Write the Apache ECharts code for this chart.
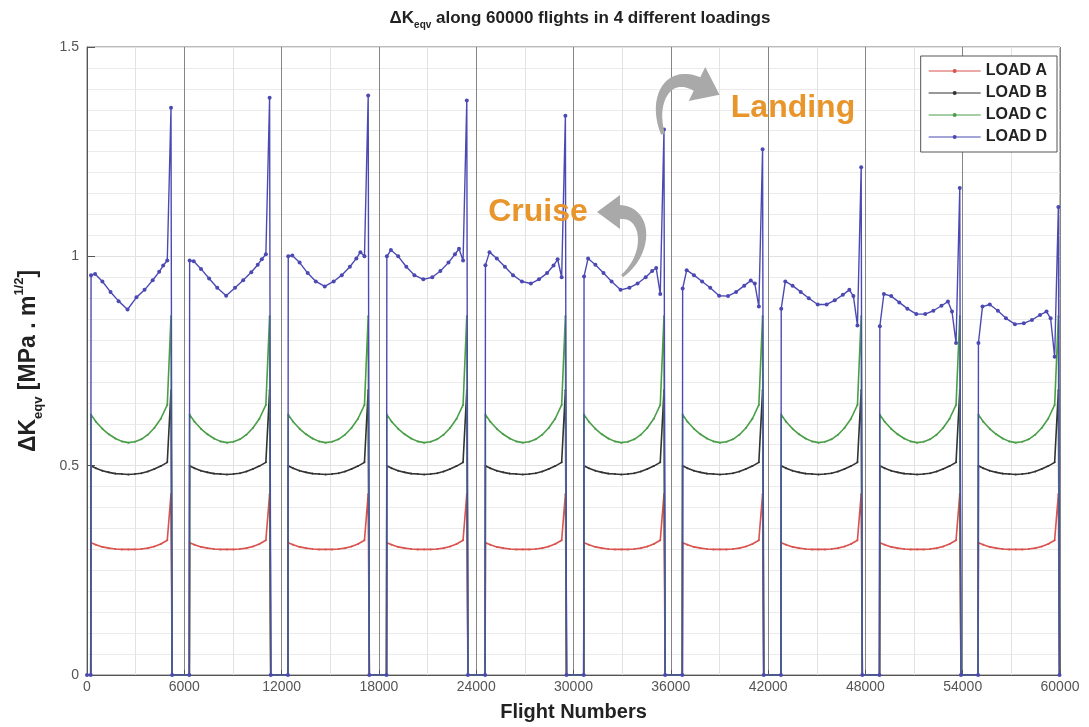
<!DOCTYPE html>
<html><head><meta charset="utf-8">
<script src="https://cdn.jsdelivr.net/npm/echarts@6/dist/echarts.min.js"></script>
<style>html,body{margin:0;padding:0;background:#fff}#c{width:1089px;height:727px}</style>
</head><body><div id="c"></div>
<script>
// ---- data ----
const xTickLabels = ['0','6000','12000','18000','24000','30000','36000','42000','48000','54000','60000'];
const yTickLabels = ['0','0.5','1','1.5'];
const seriesNames = ['LOAD A','LOAD B','LOAD C','LOAD D'];
// flight number where each loading block starts (rise from ground)
const blockStarts = [250, 6330, 12410, 18490, 24570, 30650, 36730, 42810, 48890, 54970];
const spikeOffset = 4930;   // landing peak, flights after block start
const groundOffset = 5000;  // back to zero
// cruise samples for loads A, B, C (same in every block)
const cruiseOffsets = [0, 300, 700, 1100, 1500, 1900, 2300, 2700, 3100, 3500, 3900, 4300, 4700];
const loadA = [0.316,0.311,0.306,0.303,0.301,0.300,0.300,0.300,0.301,0.303,0.307,0.313,0.322];
const loadAPeak = 0.432;
const loadB = [0.500,0.494,0.488,0.484,0.481,0.480,0.479,0.480,0.482,0.486,0.492,0.499,0.508];
const loadBPeak = 0.68;
const loadC = [0.622,0.605,0.588,0.575,0.565,0.558,0.555,0.557,0.563,0.574,0.590,0.612,0.645];
const loadCPeak = 0.857;
// load D changes from block to block
const dOffsets = [0, 250, 700, 1200, 1700, 2250, 2800, 3300, 3800, 4200, 4450, 4700];
const loadD = [
  [0.955,0.958,0.940,0.915,0.893,0.873,0.902,0.920,0.943,0.963,0.978,0.990],
  [0.990,0.988,0.970,0.947,0.925,0.906,0.925,0.943,0.962,0.980,0.993,1.005],
  [1.000,1.002,0.985,0.960,0.940,0.928,0.940,0.955,0.975,0.995,1.010,1.000],
  [1.000,1.015,1.000,0.975,0.955,0.945,0.950,0.965,0.985,1.005,1.018,0.990],
  [0.979,1.010,0.995,0.975,0.955,0.940,0.935,0.945,0.960,0.978,0.993,0.950],
  [0.952,0.995,0.980,0.960,0.940,0.920,0.925,0.935,0.950,0.965,0.972,0.910],
  [0.923,0.967,0.955,0.940,0.925,0.906,0.905,0.915,0.930,0.942,0.935,0.880],
  [0.875,0.940,0.930,0.915,0.900,0.885,0.885,0.895,0.908,0.920,0.905,0.835],
  [0.833,0.910,0.905,0.890,0.875,0.862,0.862,0.870,0.882,0.892,0.868,0.793],
  [0.793,0.880,0.885,0.870,0.852,0.838,0.840,0.848,0.860,0.868,0.852,0.760]
];
const loadDPeak = [1.355,1.379,1.384,1.372,1.336,1.303,1.256,1.213,1.163,1.118];

// ---- build point lists ----
function build(offsets, valsForBlock, peakForBlock) {
  const pts = [[0, 0]];
  blockStarts.forEach((s, k) => {
    pts.push([s - 20, 0]);
    const v = valsForBlock(k);
    offsets.forEach((o, i) => pts.push([s + o, v[i]]));
    pts.push([s + spikeOffset, peakForBlock(k)]);
    pts.push([s + groundOffset, 0]);
  });
  return pts;
}
const dataA = build(cruiseOffsets, () => loadA, () => loadAPeak);
const dataB = build(cruiseOffsets, () => loadB, () => loadBPeak);
const dataC = build(cruiseOffsets, () => loadC, () => loadCPeak);
const dataD = build(dOffsets, k => loadD[k], k => loadDPeak[k]);

const colors = ['#d9534f', '#333333', '#4a9e48', '#4c4ab2'];

// ---- decorative arrows ----
function arrow(p0, c1, c2, p3, w0, w1, headLen, headW) {
  const N = 24, L = [], R = [];
  let last;
  for (let i = 0; i <= N; i++) {
    const t = i / N, u = 1 - t;
    const x = u*u*u*p0[0] + 3*u*u*t*c1[0] + 3*u*t*t*c2[0] + t*t*t*p3[0];
    const y = u*u*u*p0[1] + 3*u*u*t*c1[1] + 3*u*t*t*c2[1] + t*t*t*p3[1];
    const dx = 3*u*u*(c1[0]-p0[0]) + 6*u*t*(c2[0]-c1[0]) + 3*t*t*(p3[0]-c2[0]);
    const dy = 3*u*u*(c1[1]-p0[1]) + 6*u*t*(c2[1]-c1[1]) + 3*t*t*(p3[1]-c2[1]);
    const n = Math.hypot(dx, dy) || 1;
    const nx = -dy / n, ny = dx / n;
    const w = (w0 + (w1 - w0) * t) / 2;
    L.push([x + nx*w, y + ny*w]);
    R.push([x - nx*w, y - ny*w]);
    last = {x, y, tx: dx/n, ty: dy/n, nx, ny};
  }
  const tip = [last.x + last.tx*headLen, last.y + last.ty*headLen];
  const hA = [last.x + last.nx*headW/2, last.y + last.ny*headW/2];
  const hB = [last.x - last.nx*headW/2, last.y - last.ny*headW/2];
  return L.concat([hA, tip, hB]).concat(R.reverse());
}

const chart = echarts.init(document.getElementById('c'), null, {renderer: 'canvas'});
const baseFont = 'Liberation Sans, Arial, sans-serif';
const lineSeries = (name, data, color, size, width, z) => ({
  name, type: 'line', data, z,
  showSymbol: true, showAllSymbol: true, symbol: 'circle', symbolSize: size,
  itemStyle: {color}, lineStyle: {color, width},
  animation: false
});
const legendIcon = 'path://M0,4.5H50V5.5H0Z M23,5 A2,2 0 1 1 27,5 A2,2 0 1 1 23,5 Z';

chart.setOption({
  animation: false,
  color: colors,
  title: {
    text: '{b|ΔK}{s|eqv}{b| along 60000 flights in 4 different loadings}',
    left: 575, top: 1, textAlign: 'center',
    textStyle: {
      rich: {
        b: {fontFamily: baseFont, fontWeight: 'bold', fontSize: 17, color: '#222', lineHeight: 24},
        s: {fontFamily: baseFont, fontWeight: 'bold', fontSize: 10, color: '#222', lineHeight: 10, verticalAlign: 'bottom'}
      }
    }
  },
  legend: {
    data: seriesNames.map(n => ({name: n, icon: legendIcon})),
    orient: 'vertical', right: 32, top: 56,
    backgroundColor: '#fff', borderColor: '#555', borderWidth: 1,
    padding: [7, 10, 7, 8], itemGap: 6, itemWidth: 52, itemHeight: 14,
    textStyle: {fontFamily: baseFont, fontWeight: 'bold', fontSize: 16, color: '#222'}
  },
  grid: {left: 87, right: 29, top: 47, bottom: 48, show: true, borderColor: '#777', borderWidth: 1},
  xAxis: {
    type: 'value', min: 0, max: 60000, interval: 6000,
    name: 'Flight Numbers', nameLocation: 'middle', nameGap: 27,
    nameTextStyle: {fontFamily: baseFont, fontWeight: 'bold', fontSize: 20, color: '#222'},
    axisLine: {show: true, lineStyle: {color: '#555'}},
    axisTick: {show: true, inside: true, length: 5, lineStyle: {color: '#555'}},
    axisLabel: {fontFamily: 'Liberation Sans Narrow, Arial Narrow, sans-serif', fontSize: 14, color: '#555', margin: 5,
      formatter: (v) => xTickLabels[Math.round(v / 6000)]},
    splitLine: {show: true, lineStyle: {color: '#858585', width: 1}},
    minorTick: {show: false, splitNumber: 2},
    minorSplitLine: {show: true, lineStyle: {color: '#e2e2e2', width: 1}}
  },
  yAxis: {
    type: 'value', min: 0, max: 1.5, interval: 0.5,
    name: '{b|ΔK}{s|eqv}{b| [MPa . m}{p|1/2}{b|]}', nameLocation: 'middle', nameGap: 42, nameRotate: 90,
    nameTextStyle: {
      rich: {
        b: {fontFamily: baseFont, fontWeight: 'bold', fontSize: 23, color: '#222', lineHeight: 32},
        s: {fontFamily: baseFont, fontWeight: 'bold', fontSize: 13, color: '#222', lineHeight: 13, verticalAlign: 'bottom'},
        p: {fontFamily: baseFont, fontWeight: 'bold', fontSize: 13, color: '#222', lineHeight: 13, verticalAlign: 'top'}
      }
    },
    axisLine: {show: true, lineStyle: {color: '#555'}},
    axisTick: {show: true, inside: true, length: 8, lineStyle: {color: '#555'}},
    axisLabel: {fontFamily: 'Liberation Sans Narrow, Arial Narrow, sans-serif', fontSize: 14, color: '#555', margin: 8,
      formatter: (v) => yTickLabels[Math.round(v / 0.5)]},
    splitLine: {show: true, lineStyle: {color: '#e2e2e2', width: 1}},
    minorTick: {show: false, splitNumber: 10},
    minorSplitLine: {show: true, lineStyle: {color: '#ebebeb', width: 1}}
  },
  graphic: [
    {type: 'polygon', z: 50, shape: {points: arrow([663,134],[651,100],[668,70],[697,84], 4, 15, 25, 38)}, style: {fill: '#a9a9a9'}},
    {type: 'polygon', z: 50, shape: {points: arrow([622,276],[650,254],[648,212],[620,212], 3, 14, 23, 34)}, style: {fill: '#a9a9a9'}},
    {type: 'text', z: 51, x: 793, y: 108, style: {text: 'Landing', fill: '#e8952b', font: 'bold 32px Liberation Sans, Arial, sans-serif', textAlign: 'center', textVerticalAlign: 'middle'}},
    {type: 'text', z: 51, x: 538, y: 212, style: {text: 'Cruise', fill: '#e8952b', font: 'bold 32px Liberation Sans, Arial, sans-serif', textAlign: 'center', textVerticalAlign: 'middle'}}
  ],
  series: [
    lineSeries('LOAD A', dataA, colors[0], 2, 1.6, 2),
    lineSeries('LOAD B', dataB, colors[1], 2, 1.6, 3),
    lineSeries('LOAD C', dataC, colors[2], 2, 1.6, 4),
    lineSeries('LOAD D', dataD, colors[3], 4, 1.4, 5)
  ]
});
</script>
</body></html>
